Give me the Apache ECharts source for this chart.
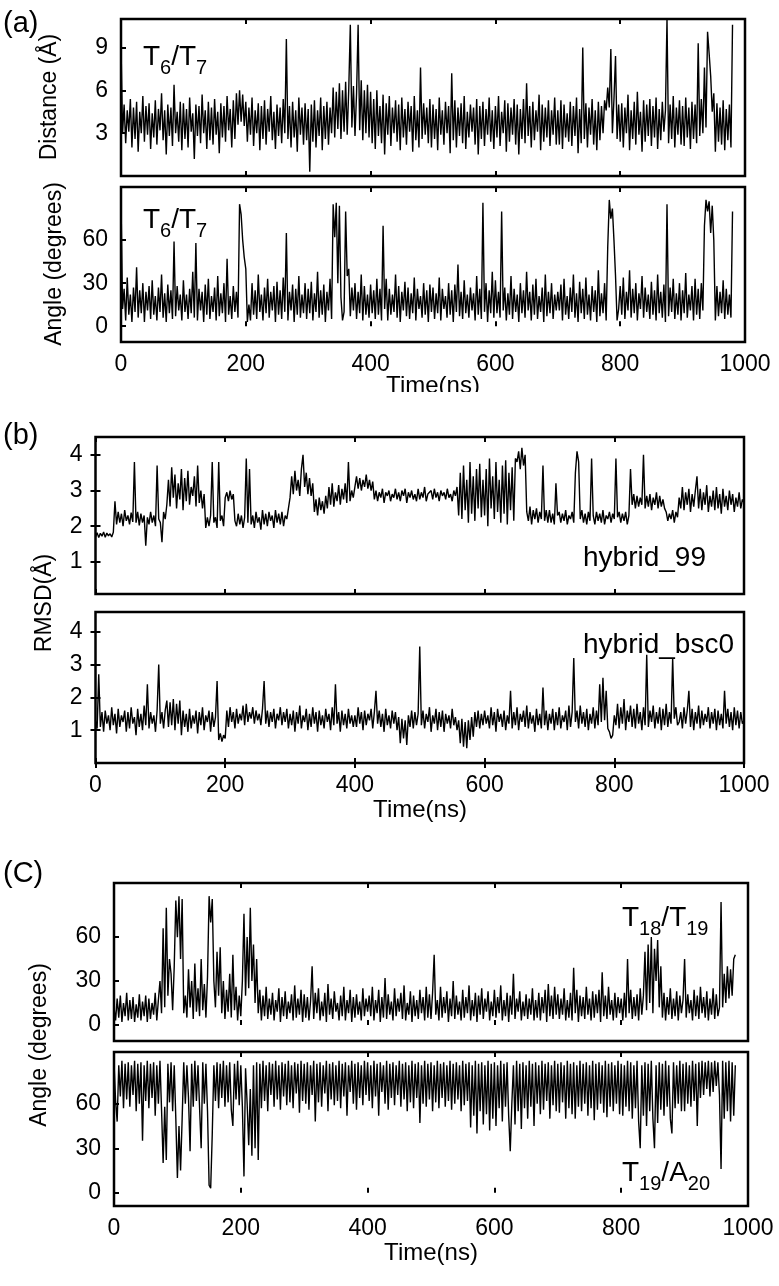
<!DOCTYPE html>
<html><head><meta charset="utf-8">
<script src="https://cdn.jsdelivr.net/npm/echarts@6/dist/echarts.min.js"></script>
<style>html,body{margin:0;padding:0;background:#fff}#c{width:779px;height:1286px}</style>
</head><body><div id="c"></div>
<script>
// ---------------- DATA ----------------
const timeStep = 2.5; // ns between samples
const xTicks = [0, 200, 400, 600, 800, 1000];
const yTicksDistance = [3, 6, 9];
const yTicksAngle = [0, 30, 60];
const yTicksRmsd = [1, 2, 3, 4];

// (a) top: T6/T7 distance (Å), t = 0..980 ns
const distanceT6T7 = [
 9.2,3.0,5.0,2.3,4.6,3.1,5.4,2.0,4.8,2.6,5.2,1.7,4.5,3.0,5.6,2.4,4.9,2.9,5.1,1.9,4.4,2.7,5.3,2.2,4.7,3.2,5.8,2.5,4.6,1.5,5.0,2.8,4.8,2.1,6.4,3.0,4.5,2.4,5.2,1.8,
 5.1,2.6,4.7,2.0,5.5,3.1,4.4,1.2,5.0,2.8,4.9,2.3,5.7,3.0,4.6,1.9,5.2,2.5,4.8,2.2,5.4,2.9,4.5,1.6,5.1,2.7,4.9,2.4,5.6,3.2,4.7,2.0,5.3,2.6,5.8,3.6,6.0,3.8,5.7,3.5,
 5.2,2.4,4.8,2.9,5.5,2.1,4.6,3.0,5.1,1.8,4.9,2.6,5.3,2.2,4.7,3.1,5.6,2.5,4.5,1.9,5.0,2.8,4.8,2.3,5.4,3.0,9.6,2.6,4.9,2.0,5.2,2.7,4.6,1.7,5.5,2.9,4.8,2.2,5.1,2.5,
 4.7,0.3,5.0,2.4,5.3,2.0,4.6,2.8,5.5,1.8,4.9,2.6,5.2,2.2,4.8,3.0,6.2,2.7,5.9,3.3,6.5,2.6,6.0,3.1,6.6,2.9,6.1,10.6,3.4,6.3,2.8,5.8,10.6,3.2,6.7,2.5,6.0,3.0,6.4,2.7,
 5.9,2.3,5.4,1.9,6.0,2.8,4.9,2.3,5.7,1.5,5.1,2.9,5.6,2.1,4.8,3.0,5.3,2.4,5.0,1.8,5.5,2.7,4.7,2.2,5.2,3.1,4.9,1.7,5.6,2.5,4.6,2.0,7.6,2.6,5.1,2.9,4.8,2.3,5.4,2.0,
 5.0,2.6,4.7,1.8,5.5,2.9,4.6,2.2,5.2,3.0,4.9,1.6,7.2,2.5,5.3,2.0,4.8,2.8,5.1,2.3,5.6,1.9,4.5,2.7,5.0,3.1,4.8,2.2,5.4,1.5,4.9,2.6,5.2,2.1,4.7,2.9,5.5,2.4,4.6,1.9,
 4.9,2.7,5.6,2.1,4.5,3.0,5.3,1.7,5.1,2.4,4.8,2.9,5.4,2.2,5.0,1.5,4.7,2.6,5.4,2.3,6.5,2.8,4.9,2.0,5.2,2.5,4.6,3.1,5.7,1.8,5.0,2.4,4.8,2.7,5.3,2.1,4.6,2.9,5.5,2.2,
 4.6,2.2,5.3,1.9,5.0,2.7,4.4,2.4,5.2,2.1,4.9,2.8,5.5,1.6,4.7,2.3,9.0,2.6,5.1,2.0,4.8,2.9,5.4,2.2,4.6,1.8,5.2,2.5,4.9,3.0,5.3,4.6,6.2,4.8,8.9,3.0,5.4,8.4,2.6,5.0,
 2.4,5.1,2.0,4.8,3.0,5.7,1.8,4.6,2.6,5.2,2.2,5.9,2.9,4.5,1.7,5.3,2.4,5.0,2.8,5.4,2.1,4.9,2.7,5.5,1.9,4.7,2.5,5.2,3.1,4.6,11.0,2.3,5.0,2.6,5.6,2.0,4.8,2.9,5.3,2.2,
 4.9,2.1,5.5,2.7,4.8,1.9,5.2,2.6,5.0,2.3,9.3,2.8,5.4,3.0,7.6,3.4,10.1,8.6,7.0,4.5,5.8,1.7,5.1,2.4,4.8,2.2,5.3,1.8,4.7,2.5,5.0,2.0,10.6
];
// (a) bottom: T6/T7 angle (degrees), t = 0..980 ns
const angleT6T7 = [
 88,12,26,4,34,8,22,3,27,10,41,6,25,9,30,3,24,11,28,5,32,8,21,4,27,10,36,6,23,3,29,9,25,5,59,7,28,11,22,4,
 32,10,22,5,26,9,38,6,58,4,26,11,24,3,29,8,33,5,21,10,27,4,35,7,23,9,30,3,47,8,21,5,28,10,24,6,85,78,60,48,
 40,3,15,4,30,8,25,5,36,10,22,4,27,9,33,6,24,11,28,3,31,8,25,5,34,10,65,4,24,11,29,3,26,8,35,6,22,9,30,5,
 26,9,31,4,23,10,38,6,25,8,29,3,24,11,33,5,85,62,86,30,84,20,4,10,80,35,40,7,27,11,30,5,24,9,36,4,28,8,22,6,
 29,9,25,5,33,8,26,4,70,12,33,4,26,8,22,10,36,6,28,3,24,11,31,7,27,5,23,9,34,4,26,12,21,6,30,8,25,3,29,10,
 27,5,23,9,34,4,26,12,21,6,30,8,25,3,29,10,43,7,24,5,32,9,22,6,27,11,23,4,35,8,26,5,86,10,30,3,25,9,38,6,
 32,9,24,6,80,11,27,4,23,8,35,5,26,10,22,3,30,9,25,6,38,11,24,4,29,8,33,5,21,10,27,3,36,7,24,9,30,5,22,11,
 24,11,29,4,33,8,21,5,27,10,36,6,23,3,31,9,26,5,34,8,22,4,28,10,25,3,39,7,23,9,30,4,55,88,75,82,60,35,4,12,
 28,8,34,5,24,11,39,6,26,9,30,4,23,12,35,6,27,10,22,5,31,8,25,4,36,9,24,6,29,3,85,7,27,10,33,5,23,8,30,4,
 25,9,37,6,22,11,28,4,33,8,26,5,30,11,70,88,80,87,65,84,60,4,28,7,24,9,32,5,26,8,22,6,80
];
// (b) top: RMSD hybrid_99 (Å), t = 0..1000 ns
const rmsdHybrid99 = [
 1.70,1.82,1.68,1.80,1.72,1.84,1.69,1.81,1.73,1.79,1.70,1.83,2.70,2.05,2.40,2.10,2.35,2.00,2.45,2.15,2.30,2.05,2.38,2.12,3.80,2.10,2.40,2.02,2.35,2.10,2.30,1.45,2.25,2.05,2.40,2.10,2.30,2.00,3.70,2.20,
 2.10,1.55,2.40,2.20,2.60,3.30,2.55,3.65,2.80,3.45,2.50,3.20,2.75,3.60,2.45,3.35,2.70,3.55,2.60,3.10,2.85,3.40,2.55,3.70,2.65,3.00,2.50,2.90,1.95,2.25,2.00,2.30,3.80,2.10,2.25,1.95,3.80,2.15,2.30,2.00,
 2.80,2.95,2.70,3.00,2.75,2.90,2.15,2.00,2.35,2.05,2.30,1.95,2.25,3.90,2.10,3.60,2.05,2.30,1.95,2.40,2.10,2.25,1.90,2.45,2.05,2.35,2.00,2.40,2.15,2.30,1.95,2.45,2.10,2.35,2.05,2.40,2.00,2.30,2.20,2.50,
 2.80,3.40,2.90,3.55,3.00,3.30,2.85,3.60,4.00,3.10,3.50,2.90,3.35,2.85,3.20,2.40,2.75,2.30,2.80,2.45,2.70,2.35,2.85,2.50,3.10,2.60,3.20,2.55,2.95,2.70,3.15,2.60,3.05,2.75,3.20,2.65,3.80,2.70,3.00,2.80,
 3.10,3.40,3.05,3.35,3.00,3.30,3.10,3.45,3.05,3.30,3.00,3.25,2.75,3.00,2.70,2.95,2.80,3.05,2.65,2.95,2.85,3.00,2.70,2.90,2.80,3.05,2.75,2.95,2.70,3.00,2.85,3.05,2.65,2.95,2.80,3.00,2.75,2.90,2.70,3.05,
 2.75,2.95,2.80,3.10,2.70,2.90,2.85,3.00,2.75,3.05,2.80,2.95,2.70,3.00,2.85,2.95,2.75,3.05,2.80,2.90,2.70,3.00,2.85,3.10,2.30,3.50,2.20,3.70,2.45,3.30,2.10,3.80,2.35,3.40,2.15,3.60,2.50,3.75,2.25,3.30,
 2.30,3.60,2.00,3.90,2.50,3.40,2.20,3.80,2.40,3.30,2.10,3.70,2.35,3.85,2.05,3.50,2.45,3.65,2.15,3.90,3.80,4.10,3.60,4.20,3.70,4.00,2.40,2.15,2.55,2.05,2.45,2.20,2.50,2.10,2.40,2.20,3.70,2.15,2.45,2.10,
 2.45,2.10,2.35,2.05,3.20,2.30,2.40,2.10,2.35,2.15,2.45,2.05,2.30,2.20,2.40,2.10,3.50,4.10,3.80,2.20,2.45,2.10,2.35,2.05,2.40,2.15,3.90,2.30,2.05,2.40,2.15,2.35,2.10,2.45,2.05,2.30,2.20,2.40,2.10,2.35,
 2.20,3.90,2.25,2.40,2.10,2.35,2.15,2.40,2.05,2.30,3.60,2.60,2.90,2.50,2.85,2.55,2.80,2.60,4.00,2.50,2.85,2.55,2.90,2.45,2.80,2.60,2.95,2.50,2.85,2.55,2.75,2.50,2.40,2.15,2.35,2.20,2.45,2.10,2.40,2.25,
 2.80,2.50,3.10,2.45,2.95,2.60,3.05,2.40,2.90,2.55,3.00,3.40,2.50,3.05,2.45,2.95,2.60,3.15,2.40,2.85,2.55,3.00,2.45,3.10,2.50,2.90,2.35,3.05,2.55,2.85,2.45,3.00,2.60,2.90,2.40,2.80,2.55,2.95,2.50,2.75,2.65
];
// (b) bottom: RMSD hybrid_bsc0 (Å), t = 0..1000 ns
const rmsdHybridBsc0 = [
 1.30,1.05,2.70,1.10,1.55,0.95,1.60,1.20,1.45,1.00,1.70,1.15,1.50,0.90,1.65,1.10,1.45,1.25,1.60,0.95,1.55,1.05,1.70,1.20,1.40,0.85,1.65,1.10,1.50,1.00,1.75,1.15,2.40,1.05,1.55,1.20,1.45,0.95,1.60,3.00,
 1.20,1.55,1.05,1.60,1.90,1.10,1.85,1.15,1.95,1.00,1.80,1.20,1.90,0.85,1.60,1.10,1.50,0.95,1.65,1.05,1.45,1.20,1.60,0.90,1.55,1.15,1.70,1.00,1.45,1.25,1.60,0.95,1.55,1.10,1.40,2.50,0.70,0.90,0.65,0.85,
 0.75,1.60,1.10,1.70,1.25,1.55,1.05,1.65,1.20,1.50,1.30,1.75,1.15,1.80,1.25,1.55,1.35,1.70,1.20,1.60,1.30,1.50,1.15,1.65,2.50,1.20,1.60,1.10,1.55,1.25,1.65,1.05,1.50,1.30,1.70,1.15,1.55,1.25,1.65,1.05,
 1.50,1.15,1.60,0.95,1.55,1.20,1.75,1.05,1.45,1.25,1.65,1.00,1.50,1.10,1.70,1.20,1.55,0.95,1.60,1.15,1.45,1.05,1.65,1.25,1.50,1.00,1.70,1.15,2.40,1.20,1.55,0.95,1.60,1.15,1.50,1.05,1.65,1.20,1.45,1.10,
 1.45,1.10,1.70,1.20,1.55,1.00,1.60,1.15,1.50,1.30,1.65,1.05,1.55,2.20,1.20,1.60,1.10,1.50,0.95,1.65,1.15,1.45,1.05,1.60,1.20,1.55,1.00,1.40,0.60,1.35,0.75,1.30,0.55,1.45,1.10,1.60,1.05,1.55,1.15,1.50,
 3.55,1.15,1.60,1.05,1.50,1.25,1.70,0.95,1.45,1.20,1.65,1.00,1.55,1.10,1.60,0.95,1.50,1.20,1.45,1.05,1.65,1.15,1.40,1.00,1.30,0.60,1.35,0.50,1.25,0.45,1.30,0.70,1.40,0.80,1.55,1.10,1.60,1.05,1.50,1.15,
 1.60,1.20,1.45,1.05,1.70,1.15,1.55,0.95,1.65,1.25,1.50,1.10,1.60,1.00,1.45,1.20,2.20,1.05,1.55,1.15,1.70,1.00,1.50,1.25,1.60,1.10,1.75,1.05,1.55,1.20,1.45,0.95,1.65,1.15,1.50,1.05,2.30,1.15,1.60,1.00,
 1.50,1.20,1.65,1.00,1.55,1.15,1.70,1.05,1.45,1.25,1.60,1.00,1.75,1.10,1.55,3.20,1.25,1.60,1.05,1.75,1.20,1.55,1.10,1.65,1.00,1.50,1.20,1.70,1.05,1.60,1.15,2.40,1.25,2.60,1.30,2.20,1.05,0.95,0.75,0.85,
 1.45,1.15,1.80,1.05,1.70,1.20,1.95,1.00,1.60,1.25,1.75,1.10,1.65,1.05,1.80,1.20,1.55,1.00,1.70,1.15,3.30,1.10,1.60,1.25,1.75,1.05,1.55,1.20,1.70,1.00,1.65,1.15,1.80,1.10,1.55,1.20,3.20,1.35,1.70,1.15,
 1.25,1.55,1.05,1.70,1.20,1.60,2.20,1.10,1.65,1.00,1.55,1.20,1.75,1.05,1.60,1.15,1.50,1.25,1.70,1.05,1.55,1.20,1.65,1.00,1.60,1.15,1.50,1.05,2.20,1.20,1.65,1.10,1.55,1.00,1.70,1.15,1.60,1.05,1.55,1.20,1.30
];
// (C) top: T18/T19 angle (degrees), t = 0..980 ns
const angleT18T19 = [
 12,3,18,5,20,2,15,6,22,3,17,4,19,2,14,5,21,3,16,6,20,2,18,4,15,7,22,3,17,30,8,66,12,80,20,45,35,10,40,85,
 60,88,45,86,8,20,5,38,12,30,4,42,9,25,6,45,10,28,5,33,88,70,86,30,12,50,20,53,8,30,4,24,9,35,5,48,10,26,3,20,
 6,30,76,20,60,25,80,30,55,15,45,8,24,3,20,6,26,4,18,7,22,3,17,9,25,2,19,6,23,4,16,8,21,3,27,5,18,7,24,2,
 21,5,19,3,16,40,4,22,8,25,3,16,6,22,2,28,7,18,4,23,9,15,3,20,6,26,3,17,8,24,2,19,5,21,7,16,3,25,6,18,
 9,20,6,26,3,17,8,24,2,19,5,32,4,21,7,16,3,25,6,18,9,22,4,27,3,15,7,23,2,20,6,17,4,24,8,19,3,26,5,21,
 4,22,48,7,17,3,26,5,19,8,23,2,18,6,30,4,20,7,16,3,24,5,19,8,27,3,17,6,22,2,20,7,25,4,18,9,23,3,16,6,
 24,5,19,8,27,3,17,6,22,2,20,7,35,4,18,9,23,3,16,6,21,4,18,7,25,3,17,5,22,3,19,8,24,2,28,6,20,4,26,7,
 21,4,18,7,25,3,17,5,22,3,39,8,24,2,20,6,19,4,26,7,18,3,23,5,21,8,24,2,36,6,20,4,26,7,17,3,22,5,19,8,
 18,3,22,5,45,8,24,4,19,6,21,3,25,7,20,50,10,55,15,60,8,52,30,58,12,40,5,22,3,19,7,25,4,18,6,23,3,20,8,17,
 45,5,21,8,17,3,24,6,20,4,26,8,19,5,23,3,18,7,25,4,21,6,12,84,12,35,15,40,18,38,20,45,48
];
// (C) bottom: T19/A20 angle (degrees), t = 0..980 ns
const angleT19A20 = [
 88,62,48,86,65,89,57,87,63,88,58,86,66,89,55,87,60,88,35,86,62,89,57,87,64,88,52,86,60,89,56,20,58,22,87,61,88,55,86,50,
 10,45,15,50,88,60,86,64,28,87,58,89,62,86,57,30,88,60,87,55,5,3,40,86,62,88,57,87,64,89,58,86,61,88,56,45,87,63,89,59,
 86,58,11,84,60,32,70,25,86,30,88,22,87,57,89,62,86,55,88,66,87,58,89,63,86,56,88,65,87,59,89,61,86,57,88,67,87,54,89,62,
 87,60,88,56,86,66,89,48,87,61,88,58,86,67,89,55,87,63,88,59,86,62,89,57,87,65,88,52,86,68,89,60,87,56,88,64,86,59,89,66,
 88,62,86,57,89,65,87,52,88,68,86,60,89,56,87,64,88,59,86,66,89,58,87,63,88,55,86,61,89,57,87,64,88,47,86,60,89,58,87,63,
 88,55,86,61,89,57,87,64,88,58,86,62,89,56,87,60,88,63,86,55,89,59,87,62,88,44,86,52,89,40,87,55,88,46,86,53,89,42,87,50,
 88,45,86,57,89,48,87,58,88,52,28,60,86,46,89,55,87,43,88,57,86,50,89,58,87,45,88,60,86,53,89,56,87,62,88,50,86,59,89,55,
 87,54,88,61,86,50,89,57,87,53,88,50,86,58,89,55,87,60,88,52,86,57,89,49,87,56,88,60,86,54,89,51,87,58,88,55,86,60,89,53,
 87,52,86,58,89,55,88,50,86,57,89,48,30,86,52,88,45,87,55,89,50,30,86,47,88,56,87,52,89,58,86,50,40,88,57,86,60,89,55,87,
 55,88,60,86,58,89,62,87,45,88,64,89,66,88,70,89,65,88,68,89,72,88,66,16,89,50,88,55,89,48,88,52,86
];

// ---------------- LAYOUT ----------------
const FONT = '"Liberation Sans", Arial, sans-serif';
const TICK_FS = 23;
const panels = [
  {left:121, top:19,  width:624, height:157, ymin:0,   ymax:11,  yticks:yTicksDistance, data:distanceT6T7,  xlabels:false, rticks:false},
  {left:121, top:187, width:624, height:155, ymin:-11, ymax:97,  yticks:yTicksAngle,    data:angleT6T7,     xlabels:true,  rticks:false},
  {left:95.5,top:437, width:648.5,height:157,ymin:0.1, ymax:4.5, yticks:yTicksRmsd,     data:rmsdHybrid99,  xlabels:false, rticks:true},
  {left:95.5,top:612, width:648.5,height:151,ymin:0,   ymax:4.6, yticks:yTicksRmsd,     data:rmsdHybridBsc0,xlabels:true,  rticks:true},
  {left:114, top:883, width:634, height:158, ymin:-11, ymax:97,  yticks:yTicksAngle,    data:angleT18T19,   xlabels:false, rticks:false},
  {left:114, top:1052,width:634, height:154, ymin:-9,  ymax:95,  yticks:yTicksAngle,    data:angleT19A20,   xlabels:true,  rticks:false}
];

const grid = [], xAxis = [], yAxis = [], series = [];
const tickStyle = {show:true, inside:true, length:5, lineStyle:{color:'#000', width:2}};
const plain = v => String(v);
panels.forEach((p, i) => {
  grid.push({left:p.left, top:p.top, width:p.width, height:p.height, show:true,
             borderColor:'#000', borderWidth:2.5, backgroundColor:'transparent'});
  const bx = xAxis.length;
  xAxis.push({type:'value', gridIndex:i, min:0, max:1000, interval:200, position:'bottom',
    axisLine:{show:false}, splitLine:{show:false}, axisTick:tickStyle,
    axisLabel:{show:p.xlabels, color:'#000', fontSize:TICK_FS, fontFamily:FONT, margin:11,
      customValues: xTicks, formatter: plain}});
  xAxis.push({type:'value', gridIndex:i, min:0, max:1000, interval:200, position:'top',
    axisLine:{show:false}, splitLine:{show:false}, axisTick:tickStyle, axisLabel:{show:false}});
  const by = yAxis.length;
  yAxis.push({type:'value', gridIndex:i, min:p.ymin, max:p.ymax, position:'left',
    axisLine:{show:false}, splitLine:{show:false},
    axisTick:Object.assign({}, tickStyle, {customValues:p.yticks}),
    axisLabel:{color:'#000', fontSize:TICK_FS, fontFamily:FONT, margin:13, customValues:p.yticks, formatter: plain}});
  if (p.rticks) {
    yAxis.push({type:'value', gridIndex:i, min:p.ymin, max:p.ymax, position:'right',
      axisLine:{show:false}, splitLine:{show:false},
      axisTick:Object.assign({}, tickStyle, {customValues:p.yticks}), axisLabel:{show:false}});
  }
  series.push({type:'line', xAxisIndex:bx, yAxisIndex:by, showSymbol:false, symbol:'none',
    sampling:null, animation:false, silent:true,
    lineStyle:{color:'#000', width:1.4},
    data:p.data.map((v, k) => [k * timeStep, v])});
});

// ---------------- TEXT ----------------
const measCtx = document.createElement('canvas').getContext('2d');
function tw(s, size){ measCtx.font = size + 'px ' + FONT; return measCtx.measureText(s).width; }
function txt(s, x, y, size, opts){
  return Object.assign({type:'text', x:x, y:y, silent:true, z:10,
    style:{text:s, font: size + 'px ' + FONT, fill:'#000', align:'left', verticalAlign:'middle'}}, opts||{});
}
function label(parts, x0, baseline){
  const out = []; let x = x0;
  parts.forEach(([s, sub]) => {
    const size = sub ? 20 : 28;
    const bl = sub ? baseline + 8 : baseline;
    out.push(txt(s, x, bl - 0.35*size, size));
    x += tw(s, size);
  });
  return out;
}
function rot(s, cx, cy, size){
  return {type:'text', x:cx, y:cy, rotation:Math.PI/2, silent:true,
    style:{text:s, font:size+'px '+FONT, fill:'#000', align:'center', verticalAlign:'middle'}};
}
function center(s, cx, cy, size){
  return {type:'text', x:cx, y:cy, silent:true,
    style:{text:s, font:size+'px '+FONT, fill:'#000', align:'center', verticalAlign:'middle'}};
}
const graphic = [].concat(
  [txt('(a)', 3, 24, 29), txt('(b)', 3, 436, 29), txt('(C)', 3, 874, 29)],
  label([['T',0],['6',1],['/T',0],['7',1]], 143, 67),
  label([['T',0],['6',1],['/T',0],['7',1]], 143, 230),
  label([['hybrid_99',0]], 583, 568),
  label([['hybrid_bsc0',0]], 583, 655),
  label([['T',0],['18',1],['/T',0],['19',1]], 622, 928),
  label([['T',0],['19',1],['/A',0],['20',1]], 622, 1183),
  [rot('Distance (Å)', 50, 97, 23), rot('Angle (degrees)', 55, 264, 23),
   rot('RMSD(Å)', 45, 603, 23), rot('Angle (degrees)', 40, 1045, 23),
   center('Time(ns)', 433, 386, 24), center('Time(ns)', 420, 810, 24), center('Time(ns)', 431, 1253, 24),
   {type:'rect', shape:{x:300, y:392, width:260, height:20}, style:{fill:'#fff'}, silent:true, z:20}]
);

const chart = echarts.init(document.getElementById('c'), null, {renderer:'canvas'});
chart.setOption({animation:false, backgroundColor:'#fff', grid, xAxis, yAxis, series, graphic});
</script>
</body></html>
